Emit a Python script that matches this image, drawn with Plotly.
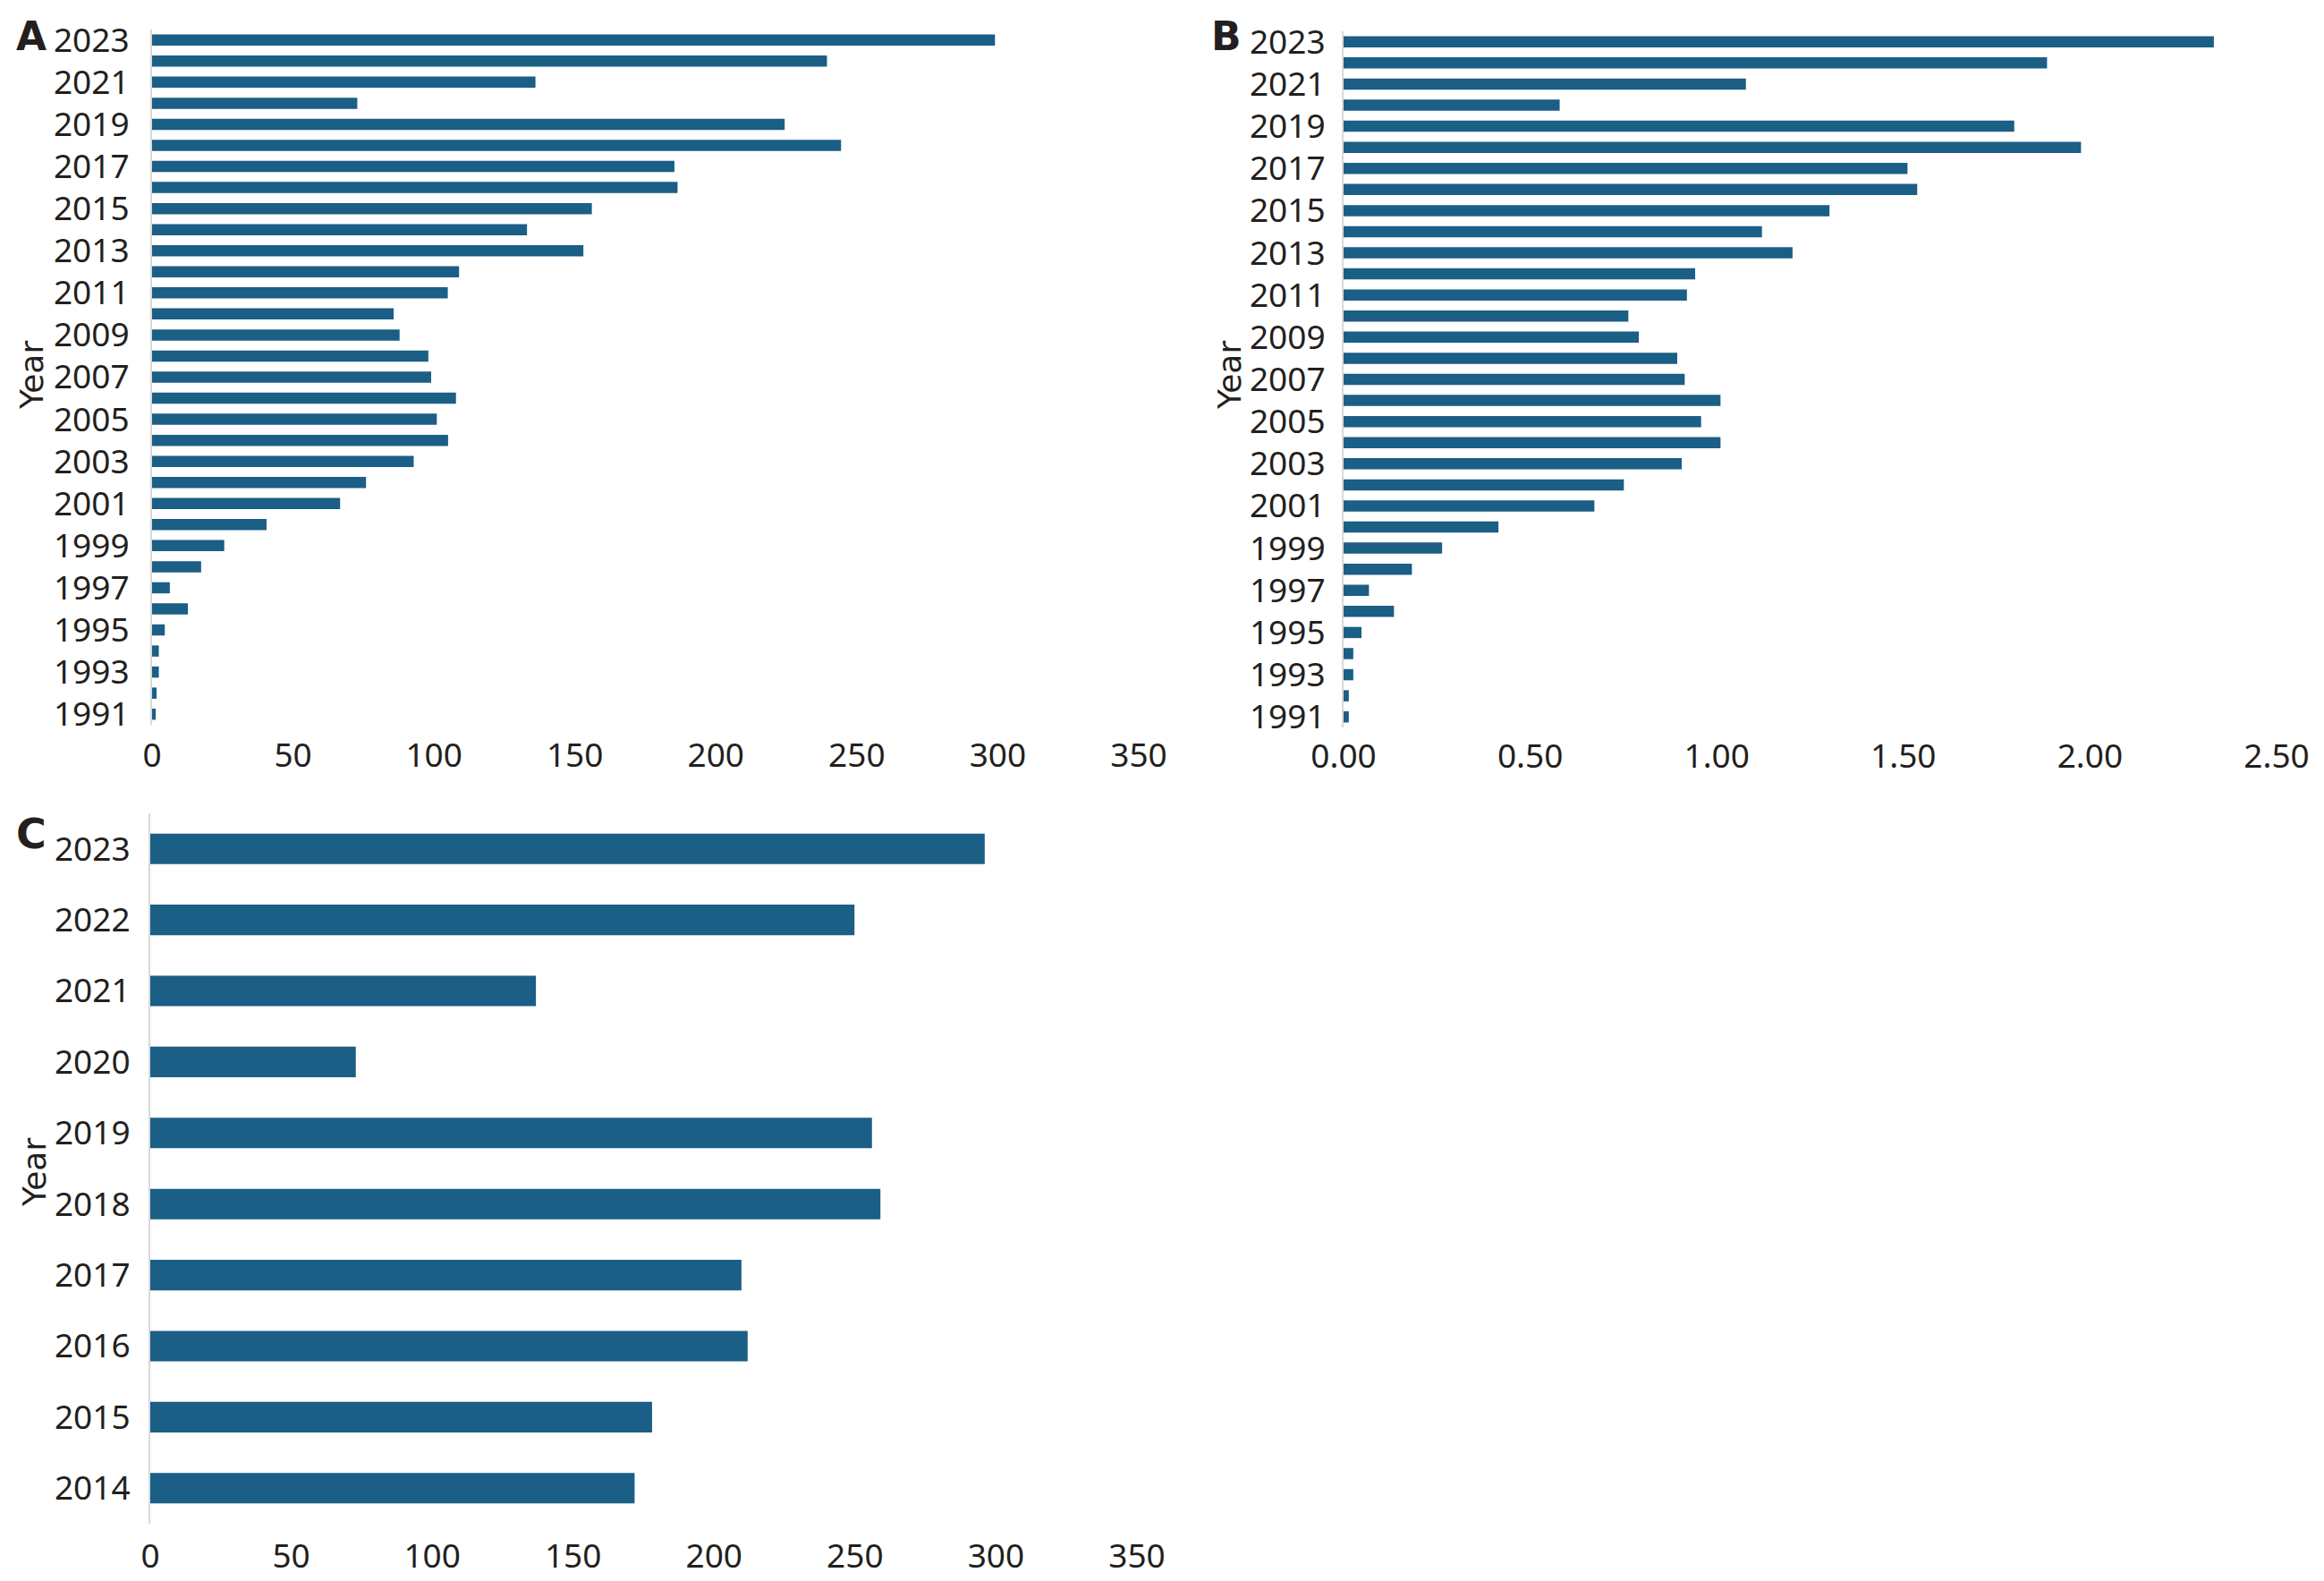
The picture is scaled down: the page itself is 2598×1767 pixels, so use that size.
import plotly.graph_objects as go

W, H = 2598, 1767

years_ab = list(range(1991, 2024))
# Panel A: counts per year (1991..2023)
counts_a = [1.3, 1.6, 2.4, 2.4, 4.5, 12.7, 6.3, 17.4, 25.6, 40.6,
            66.7, 75.9, 92.8, 105, 101, 107.8, 99, 98, 87.8, 85.7,
            104.9, 108.9, 153, 133, 156, 186.4, 185.3, 244.4, 224.4, 72.8,
            136, 239.4, 299]
# Panel B: ratio per year (1991..2023)
ratio_b = [0.014, 0.014, 0.026, 0.026, 0.048, 0.135, 0.068, 0.183, 0.264, 0.415,
           0.672, 0.751, 0.906, 1.010, 0.958, 1.010, 0.914, 0.894, 0.791, 0.763,
           0.920, 0.942, 1.203, 1.121, 1.302, 1.537, 1.511, 1.976, 1.797, 0.579,
           1.078, 1.885, 2.332]
# Panel C: counts per year (2014..2023)
years_c = list(range(2014, 2024))
counts_c = [171.8, 178, 211.9, 209.7, 259, 256, 72.9, 136.8, 249.8, 296]

ab_ticks = list(range(1991, 2024, 2))
a_xticks = [0, 50, 100, 150, 200, 250, 300, 350]
b_xticks = [0, 0.5, 1.0, 1.5, 2.0, 2.5]
b_xtext = ["0.00", "0.50", "1.00", "1.50", "2.00", "2.50"]
c_ticks = years_c

BAR = "#1B5E86"
TXT = "#231F20"
TICKFONT = dict(family="Tahoma, Noto Sans, sans-serif", size=37, color=TXT)

def px_x(a, b):
    return [a / W, b / W]

def px_y(top, bottom):
    return [1 - bottom / H, 1 - top / H]

fig = go.Figure()
fig.add_trace(go.Bar(y=years_ab, x=counts_a, orientation="h", width=0.53,
                     marker=dict(color=BAR, line=dict(width=0)),
                     xaxis="x", yaxis="y", showlegend=False))
fig.add_trace(go.Bar(y=years_ab, x=ratio_b, orientation="h", width=0.53,
                     marker=dict(color=BAR, line=dict(width=0)),
                     xaxis="x2", yaxis="y2", showlegend=False))
fig.add_trace(go.Bar(y=years_c, x=counts_c, orientation="h", width=0.43,
                     marker=dict(color=BAR, line=dict(width=0)),
                     xaxis="x3", yaxis="y3", showlegend=False))

def xax(domain, anchor, rng, tickvals, ticklen, ticktext=None):
    d = dict(domain=domain, anchor=anchor, range=rng, tickvals=tickvals,
             showgrid=False, zeroline=False, showline=False, automargin=False,
             ticks="outside", ticklen=ticklen, tickcolor="rgba(0,0,0,0)",
             tickfont=TICKFONT, fixedrange=True)
    if ticktext is not None:
        d["ticktext"] = ticktext
    return d

def yax(domain, anchor, rng, tickvals, standoff):
    return dict(domain=domain, anchor=anchor, range=rng, tickvals=tickvals,
                showgrid=False, zeroline=False, showline=True, automargin=False,
                linecolor="#D9D9D9", linewidth=2,
                ticks="", ticklabelstandoff=standoff,
                tickfont=TICKFONT, fixedrange=True)

fig.update_layout(
    width=W, height=H, autosize=False,
    margin=dict(l=0, r=0, t=0, b=0, pad=0),
    paper_bgcolor="white", plot_bgcolor="white",
    xaxis=xax(px_x(162, 1265), "y", [0, 350], a_xticks, 2),
    yaxis=yax(px_y(25, 802), "x", [1990.5, 2023.5], ab_ticks, 16),
    xaxis2=xax(px_x(1494, 2537), "y2", [0, 2.5], b_xticks, 0, b_xtext),
    yaxis2=yax(px_y(27, 805), "x2", [1990.5, 2023.5], ab_ticks, 11),
    xaxis3=xax(px_x(160, 1263), "y3", [0, 350], a_xticks, 4),
    yaxis3=yax(px_y(901, 1695), "x3", [2013.5, 2023.5], c_ticks, 13),
)

LETTER_FONT = "Tahoma, DejaVu Sans, sans-serif"
TITLE = dict(family="Verdana, DejaVu Sans, sans-serif", size=36, color=TXT)
ann = []
for txt, x, y, s in [("<b>A</b>", 27, 33, 44), ("<b>B</b>", 1363, 33, 44),
                     ("<b>C</b>", 27, 924, 46)]:
    ann.append(dict(text=txt, x=x / W, y=1 - y / H, xref="paper", yref="paper",
                    showarrow=False, xanchor="center", yanchor="middle",
                    font=dict(family=LETTER_FONT, size=s, color=TXT)))
for x, y in [(28, 412), (1367, 412), (30, 1303)]:
    ann.append(dict(text="Year", x=x / W, y=1 - y / H, xref="paper", yref="paper",
                    showarrow=False, xanchor="center", yanchor="middle",
                    textangle=-90, font=TITLE))
fig.update_layout(annotations=ann)

fig.write_html("out.html")
